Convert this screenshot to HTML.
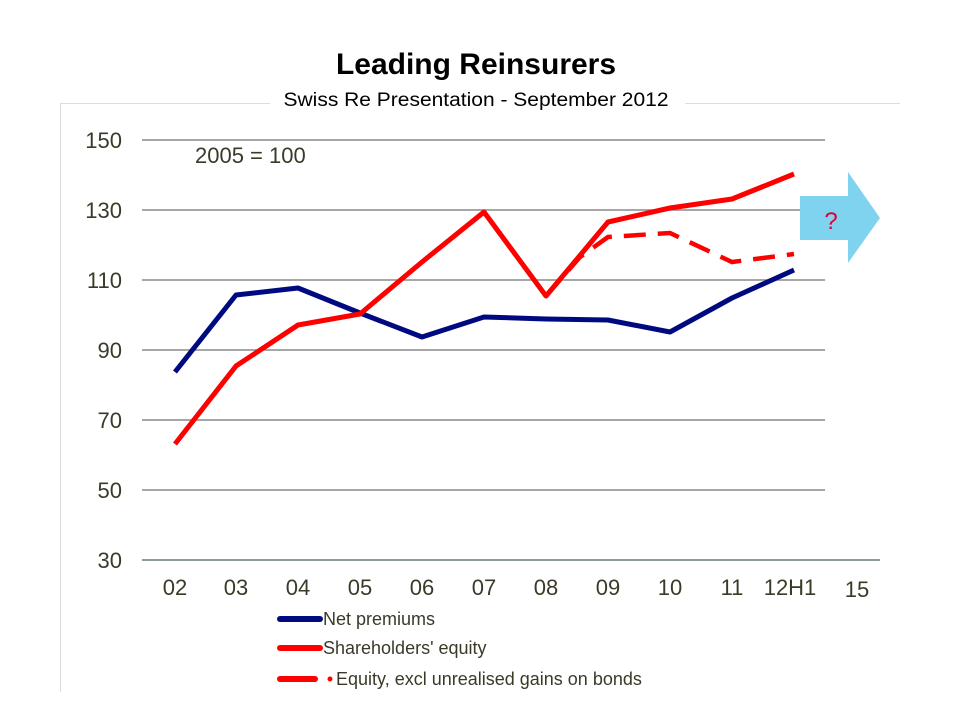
<!DOCTYPE html>
<html><head><meta charset="utf-8"><style>
body{margin:0;background:#fff;width:960px;height:720px;overflow:hidden}
</style></head><body>
<svg width="960" height="720" xmlns="http://www.w3.org/2000/svg" font-family="Liberation Sans, sans-serif">
<text x="476" y="74" text-anchor="middle" font-size="30" font-weight="bold" fill="#000">Leading Reinsurers</text>
<line x1="60" y1="103.5" x2="900" y2="103.5" stroke="#ddd" stroke-width="1"/>
<line x1="60.5" y1="103" x2="60.5" y2="692" stroke="#ddd" stroke-width="1"/>
<rect x="270" y="86" width="415" height="20" fill="#fff"/>
<text x="476" y="106" text-anchor="middle" font-size="19" fill="#000" textLength="385" lengthAdjust="spacingAndGlyphs">Swiss Re Presentation - September 2012</text>
<g stroke="#8a8a8a" stroke-width="1.5">
<line x1="142" y1="140" x2="825" y2="140"/><line x1="142" y1="210" x2="825" y2="210"/>
<line x1="142" y1="280" x2="825" y2="280"/><line x1="142" y1="350" x2="825" y2="350"/>
<line x1="142" y1="420" x2="825" y2="420"/><line x1="142" y1="490" x2="825" y2="490"/>
<line x1="142" y1="560" x2="880" y2="560" stroke="#6a7a70"/>
</g>
<g font-size="22" fill="#3b3a28" text-anchor="end">
<text x="122" y="148">150</text><text x="122" y="218">130</text><text x="122" y="288">110</text>
<text x="122" y="358">90</text><text x="122" y="428">70</text><text x="122" y="498">50</text><text x="122" y="568">30</text>
</g>
<text x="195" y="163" font-size="22" fill="#3b3a28">2005 = 100</text>
<g font-size="22" fill="#3b3a28" text-anchor="middle">
<text x="175" y="595">02</text><text x="236" y="595">03</text><text x="298" y="595">04</text><text x="360" y="595">05</text>
<text x="422" y="595">06</text><text x="484" y="595">07</text><text x="546" y="595">08</text><text x="608" y="595">09</text>
<text x="670" y="595">10</text><text x="732" y="595">11</text><text x="790" y="595">12H1</text><text x="857" y="597">15</text>
</g>
<polyline fill="none" stroke="#000a80" stroke-width="5" stroke-linejoin="round" points="175,372 236,295 298,288 360,313 422,337 484,317 546,319 608,320 670,332 732,298 794,270"/>
<polyline fill="none" stroke="#ff0000" stroke-width="5" stroke-linejoin="round" points="175,444 236,366 298,325 360,314 422,262 484,212 546,296 608,222 670,208 732,199 794,174"/>
<polyline fill="none" stroke="#ff0000" stroke-width="4.5" stroke-dasharray="22,12" points="546,296 580,257 608,237 670,233 732,262 794,254"/>
<polygon points="800,196 848,196 848,172 880,218 848,263 848,240 800,240" fill="#7fd3ee"/>
<text x="831" y="229" font-size="24" fill="#e0003a" text-anchor="middle">?</text>
<g font-size="18" fill="#3b3a28">
<line x1="280" y1="619" x2="320" y2="619" stroke="#000a80" stroke-width="6" stroke-linecap="round"/>
<text x="323" y="625">Net premiums</text>
<line x1="280" y1="648" x2="320" y2="648" stroke="#ff0000" stroke-width="6" stroke-linecap="round"/>
<text x="323" y="654">Shareholders' equity</text>
<line x1="280" y1="679" x2="315" y2="679" stroke="#ff0000" stroke-width="6" stroke-linecap="round"/>
<circle cx="330" cy="679" r="2.5" fill="#ff0000"/>
<text x="336" y="685">Equity, excl unrealised gains on bonds</text>
</g>
</svg>
</body></html>
